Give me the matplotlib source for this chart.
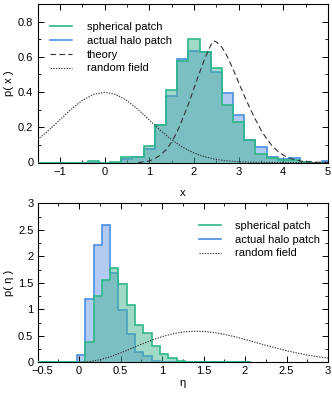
import matplotlib
matplotlib.use("Agg")
import matplotlib.pyplot as plt
from matplotlib.ticker import MultipleLocator
from matplotlib.transforms import ScaledTranslation
import numpy as np

plt.rcParams['font.family'] = ['Liberation Sans', 'DejaVu Sans']
plt.rcParams['axes.unicode_minus'] = True

# ---------------- top panel data: x ----------------
x_edges = np.arange(-1.625, 5.126, 0.25)
x_spherical = [0, 0, 0, 0, 0, 0.008, 0.0, 0.002, 0.03, 0.032, 0.095, 0.215, 0.41, 0.578,
               0.70, 0.625, 0.538, 0.326, 0.228, 0.125, 0.047, 0.023, 0.013, 0.013,
               0.003, 0.0, 0.0]
x_halo = [0, 0, 0, 0, 0, 0.0, 0.0, 0.0, 0.02, 0.03, 0.076, 0.215, 0.38, 0.588,
          0.635, 0.63, 0.515, 0.392, 0.27, 0.127, 0.087, 0.034, 0.019, 0.023,
          0.004, 0.0, 0.008]

theory_x = [0.75, 1.0, 1.125, 1.25, 1.375, 1.5, 1.625, 1.75, 1.875, 2.0, 2.125, 2.25,
            2.375, 2.44, 2.5, 2.625, 2.75, 2.875, 3.0, 3.125, 3.25, 3.375, 3.5,
            3.625, 3.75, 3.875, 4.0, 4.125, 4.25, 4.375, 4.5, 4.75, 5.0]
theory_p = [0.0, 0.008, 0.022, 0.042, 0.072, 0.115, 0.175, 0.25, 0.33, 0.42, 0.51,
            0.595, 0.665, 0.69, 0.685, 0.655, 0.6, 0.53, 0.455, 0.38, 0.31, 0.245,
            0.185, 0.135, 0.095, 0.064, 0.042, 0.026, 0.016, 0.009, 0.005, 0.0015, 0.0]

rf_x = [-1.5, -1.25, -1.0, -0.75, -0.5, -0.25, 0.0, 0.25, 0.5, 0.75, 1.0, 1.25, 1.5,
        1.75, 2.0, 2.25, 2.5, 2.75, 3.0, 3.25, 3.5, 4.0, 4.5, 5.0]
rf_p = [0.1295, 0.1826, 0.242, 0.3011, 0.3521, 0.3867, 0.3989, 0.3867, 0.3521, 0.3011,
        0.242, 0.1826, 0.1295, 0.0863, 0.054, 0.0317, 0.0175, 0.0091, 0.0044, 0.002,
        0.0009, 0.0001, 0.0, 0.0]

# ---------------- bottom panel data: eta ----------------
eta_edges = np.arange(-0.525, 2.076, 0.1)
eta_spherical = [0, 0, 0, 0, 0, 0.0, 0.38, 1.26, 1.56, 1.77, 1.48, 1.09, 0.71, 0.55,
                 0.30, 0.16, 0.08, 0.03, 0.01, 0.005, 0.005, 0.0, 0.005, 0.005, 0.0, 0.0]
eta_halo = [0, 0, 0, 0, 0, 0.14, 1.2, 2.21, 2.59, 1.69, 0.99, 0.53, 0.19, 0.11, 0.03,
            0.01, 0.0, 0.0, 0.0, 0.0, 0.0, 0.0, 0.0, 0.0, 0.0, 0.0]

rf_eta = [0.0, 0.125, 0.25, 0.375, 0.5, 0.625, 0.75, 0.875, 1.0, 1.125, 1.25, 1.375,
          1.5, 1.625, 1.75, 1.875, 2.0, 2.125, 2.25, 2.375, 2.5, 2.625, 2.75, 2.875, 3.0]
rf_eta_p = [0.0, 0.0124, 0.0483, 0.1046, 0.176, 0.2564, 0.3388, 0.4166, 0.4839, 0.5363,
            0.5707, 0.5862, 0.5829, 0.5628, 0.5285, 0.4836, 0.4319, 0.3769, 0.3215,
            0.2682, 0.2191, 0.1753, 0.1375, 0.1058, 0.0797]

GREEN_EDGE = '#2eb78a'
BLUE_EDGE = '#4a8fe0'
GREEN_FILL = (68/255, 180/255, 148/255)
BLUE_FILL = (105/255, 153/255, 233/255)

W, H = 332, 400
fig = plt.figure(figsize=(W/100, H/100), dpi=100)
ax1 = fig.add_axes([37.5/W, (H-162.5)/H, 290.5/W, 158.5/H])
ax2 = fig.add_axes([37.5/W, (H-362.3)/H, 290.5/W, 159/H])

fs = 8


def draw_hist(ax, edges, green, blue):
    ax.stairs(blue, edges, baseline=0, fill=True, color=BLUE_FILL, alpha=0.5, lw=0, zorder=1)
    ax.stairs(blue, edges, baseline=0, color=BLUE_EDGE, lw=1.2, zorder=2)
    ax.stairs(green, edges, baseline=0, fill=True, color=GREEN_FILL, alpha=0.5, lw=0, zorder=3)
    ax.stairs(green, edges, baseline=0, color=GREEN_EDGE, lw=1.2, zorder=4)


# top panel
draw_hist(ax1, x_edges, x_spherical, x_halo)
ax1.plot(theory_x, theory_p, color='#333333', lw=0.8, ls=(0, (5, 3)), zorder=5)
ax1.plot(rf_x, rf_p, color='#333333', lw=0.8, ls=(0, (1.2, 1.2)), zorder=5)
ax1.set_xlim(-1.5, 5)
ax1.set_ylim(0, 0.9)
ax1.xaxis.set_major_locator(MultipleLocator(1))
ax1.xaxis.set_minor_locator(MultipleLocator(0.5))
ax1.yaxis.set_minor_locator(MultipleLocator(0.1))
ax1.set_yticks([0, 0.2, 0.4, 0.6, 0.8])
ax1.set_yticklabels(['0', '0.2', '0.4', '0.6', '0.8'])
ax1.set_xlabel('x', fontsize=fs, labelpad=8)
ax1.set_ylabel('p( x )', fontsize=fs, labelpad=3)

h = [plt.Line2D([], [], color=GREEN_EDGE, lw=1.2),
     plt.Line2D([], [], color=BLUE_EDGE, lw=1.2),
     plt.Line2D([], [], color='#333333', lw=0.8, ls=(0, (5, 3))),
     plt.Line2D([], [], color='#333333', lw=0.8, ls=(0, (1.2, 1.2)))]
ax1.legend(h, ['spherical patch', 'actual halo patch', 'theory', 'random field'],
           loc='upper left', bbox_to_anchor=(0.017, 0.937), frameon=False, fontsize=fs,
           handlelength=2.0, handletextpad=1.3, labelspacing=0.35, borderaxespad=0.3)

# bottom panel
draw_hist(ax2, eta_edges, eta_spherical, eta_halo)
ax2.plot(rf_eta, rf_eta_p, color='#333333', lw=0.8, ls=(0, (1.2, 1.2)), zorder=5)
ax2.set_xlim(-0.5, 3)
ax2.set_ylim(0, 3)
ax2.xaxis.set_minor_locator(MultipleLocator(0.25))
ax2.yaxis.set_minor_locator(MultipleLocator(0.25))
ax2.set_xticks([-0.5, 0, 0.5, 1, 1.5, 2, 2.5, 3])
ax2.set_xticklabels(['\u22120.5', '0', '0.5', '1', '1.5', '2', '2.5', '3'])
ax2.set_yticks([0, 0.5, 1, 1.5, 2, 2.5, 3])
ax2.set_yticklabels(['0', '0.5', '1', '1.5', '2', '2.5', '3'])
ax2.set_xlabel('\u03b7', fontsize=fs, labelpad=1)
ax2.set_ylabel('p( \u03b7 )', fontsize=fs, labelpad=3)
h2 = h[:2] + [h[3]]
ax2.legend(h2, ['spherical patch', 'actual halo patch', 'random field'],
           loc='upper right', bbox_to_anchor=(1.0, 0.94), frameon=False, fontsize=fs,
           handlelength=2.0, handletextpad=1.3, labelspacing=0.35, borderaxespad=0.3)

for ax in (ax1, ax2):
    ax.tick_params(which='both', direction='in', top=True, right=True, labelsize=fs, pad=3)
    ax.tick_params(which='major', length=4, width=0.7)
    ax.tick_params(which='minor', length=2, width=0.6)
    for s in ax.spines.values():
        s.set_linewidth(0.8)

# nudge the leftmost bottom x tick label right, as in the reference
lbl = ax2.get_xticklabels()[0]
lbl.set_transform(lbl.get_transform() + ScaledTranslation(5/100, 0, fig.dpi_scale_trans))

fig.savefig('out.png', dpi=100)
